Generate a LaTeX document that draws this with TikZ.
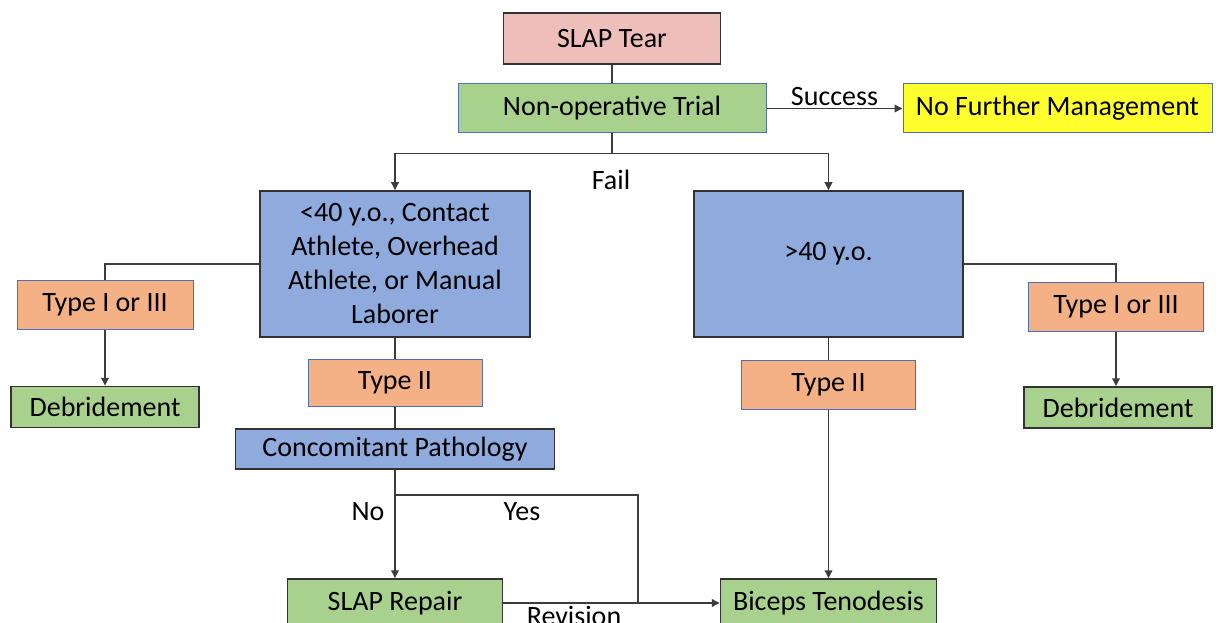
\documentclass[tikz,border=0pt]{standalone}
\usepackage{fontspec}
\setmainfont{Carlito}
\usetikzlibrary{arrows.meta}
\definecolor{tearpink}{RGB}{238,190,187}
\definecolor{leafgreen}{RGB}{169,209,142}
\definecolor{skyblue}{RGB}{143,170,220}
\definecolor{peach}{RGB}{243,177,133}
\definecolor{signyellow}{RGB}{255,255,45}
\definecolor{boxgray}{RGB}{50,50,50}
\definecolor{edgeblue}{RGB}{80,110,180}
\definecolor{linegray}{RGB}{60,60,60}
\tikzset{
  box/.style={draw=boxgray,line width=1.5pt,inner sep=0pt,align=center},
  soft/.style={draw=edgeblue,line width=1pt,inner sep=0pt,align=center},
  link/.style={draw=linegray,line width=1.8pt},
  tag/.style={inner sep=2pt}
}
\begin{document}
\begin{tikzpicture}[x=1pt,y=-1pt,font=\fontsize{28}{34}\selectfont,
  >={Triangle[length=8pt,width=7.5pt]}]
\path[use as bounding box,clip] (0,0) rectangle (1216,623);

\node (tear) [box,fill=tearpink,minimum width=217pt,minimum height=51pt] at (612,38.5) {SLAP Tear};
\node (trial) [soft,fill=leafgreen,minimum width=308pt,minimum height=49pt] at (612,108.5) {Non-operative Trial};
\node (nfm) [soft,fill=signyellow,minimum width=309pt,minimum height=49pt] at (1057.5,108.5) {No Further Management};
\node (young) [box,fill=skyblue,minimum width=270pt,minimum height=146pt] at (395,264) {<40 y.o., Contact\\Athlete, Overhead\\Athlete, or Manual\\Laborer};
\node (old) [box,fill=skyblue,minimum width=269pt,minimum height=146pt] at (828.5,264) {\raisebox{10pt}[\height][\depth]{>40 y.o.}};
\node (lt13) [soft,fill=peach,minimum width=176pt,minimum height=49pt] at (105,305) {Type I or III};
\node (dbl) [box,fill=leafgreen,minimum width=188pt,minimum height=41pt] at (105,407) {Debridement};
\node (ty2l) [soft,fill=peach,minimum width=174pt,minimum height=47pt] at (395,383) {Type II};
\node (conc) [box,fill=skyblue,minimum width=319pt,minimum height=40pt] at (395,449) {Concomitant Pathology};
\node (repair) [box,fill=leafgreen,minimum width=215pt,minimum height=48pt] at (395,603) {SLAP Repair};
\node (biceps) [box,fill=leafgreen,minimum width=216pt,minimum height=48pt] at (828.5,603) {Biceps Tenodesis};
\node (ty2r) [soft,fill=peach,minimum width=174pt,minimum height=49pt] at (828.5,384.5) {Type II};
\node (rt13) [soft,fill=peach,minimum width=175pt,minimum height=49pt] at (1116,306.5) {Type I or III};
\node (dbr) [box,fill=leafgreen,minimum width=188pt,minimum height=41pt] at (1118,407.5) {Debridement};

\draw[link] (tear) -- (trial);
\draw[link,->] (trial) -- node (succ) [tag,above] {Success} (nfm);
\path (node cs:name=trial,anchor=south) ++(0,20) coordinate (fork) {};
\draw[link] (trial) -- (fork);
\draw[link,->] (fork) -| (young);
\draw[link,->] (fork) -| (old);
\node (fail) [tag] at (611,180) {Fail};

\draw[link] (young) -| (lt13);
\draw[link,->] (lt13) -- (dbl);
\draw[link] (young) -- (ty2l);
\draw[link] (ty2l) -- (conc);
\draw[link,->] (conc) -- (repair);
\path (node cs:name=conc,anchor=south) ++(0,25) coordinate (split) {};
\coordinate (merge) at (638,0 |- repair.east);
\draw[link] (split) -| (merge);
\node (no) [tag] at (368,512) {No};
\node (yes) [tag] at (522,512) {Yes};
\draw[link,->] (repair) -- (biceps);
\node (rev) [tag,anchor=north] at (574,604) {Revision};

\draw[link] (old) -- (ty2r);
\draw[link,->] (ty2r) -- (biceps);
\draw[link] (old) -| (rt13);
\draw[link,->] (rt13) -- (rt13 |- dbr.north);

\end{tikzpicture}
\end{document}
